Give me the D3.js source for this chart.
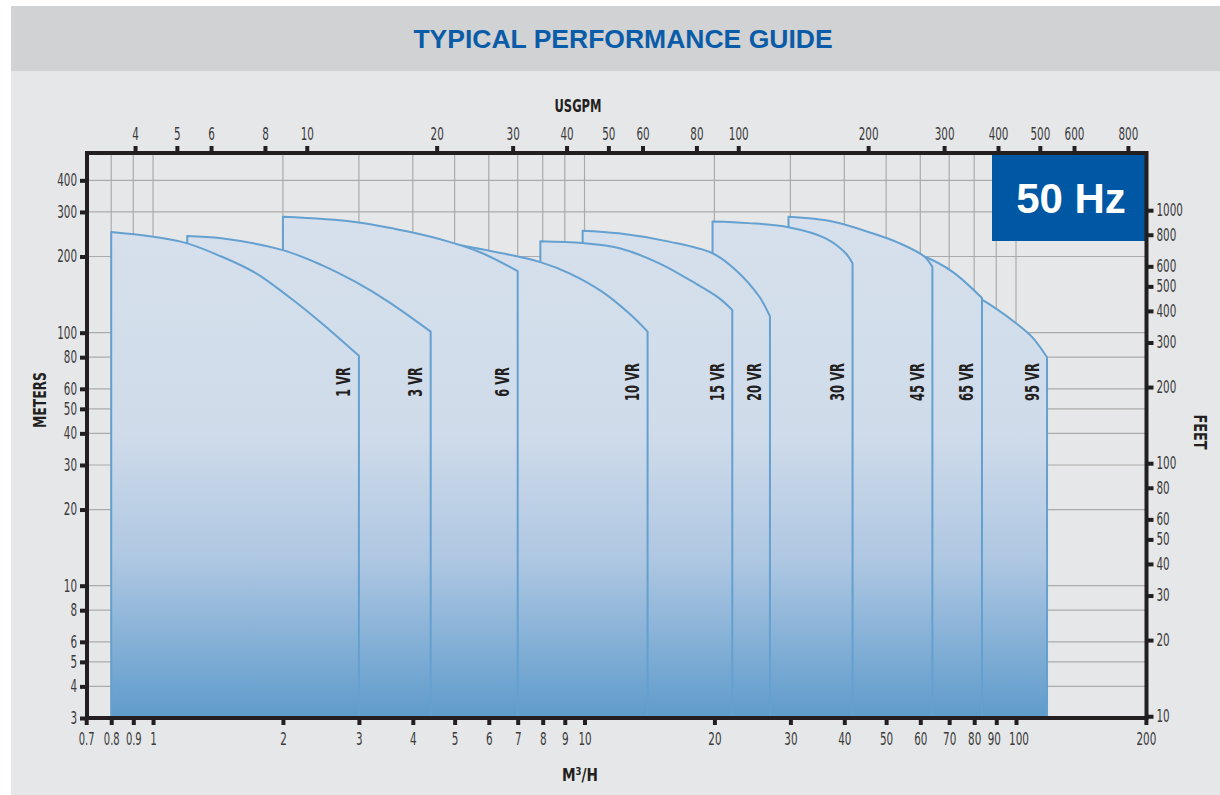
<!DOCTYPE html>
<html><head><meta charset="utf-8">
<script src="https://cdn.jsdelivr.net/npm/d3@7/dist/d3.min.js"></script>
<style>
body{margin:0;background:#fff;}
svg{display:block;}
.cond{font-family:"Liberation Sans Narrow","DejaVu Sans Condensed","Roboto Condensed",sans-serif;font-stretch:condensed;}
</style>
</head><body>
<svg id="chart" width="1220" height="795"></svg>
<script>
// ---------- data ----------
const titleText = "TYPICAL PERFORMANCE GUIDE";
const hzText = "50 Hz";
const flowTicks = [0.7,0.8,0.9,1,2,3,4,5,6,7,8,9,10,20,30,40,50,60,70,80,90,100,200];
const gpmTicks = [4,5,6,8,10,20,30,40,50,60,80,100,200,300,400,500,600,800];
const meterTicks = [3,4,5,6,8,10,20,30,40,50,60,80,100,200,300,400];
const feetTicks = [10,20,30,40,50,60,80,100,200,300,400,500,600,800,1000];
const pumpNames = ["1 VR","3 VR","6 VR","10 VR","15 VR","20 VR","30 VR","45 VR","65 VR","95 VR"];
const pumpFlows = [
  [0.8, 1.16, 1.44, 1.73, 2.06, 2.46, 3.0],
  [1.2, 1.44, 2.0, 2.46, 2.94, 3.5, 4.4],
  [2.0, 2.94, 3.9, 4.84, 5.8, 7.0],
  [4.9, 7.0, 7.9, 9.2, 11.0, 12.7, 14.0],
  [7.9, 9.9, 12.0, 14.9, 17.8, 20.5, 22.0],
  [9.9, 12.0, 15.7, 19.8, 22.4, 25.4, 26.9],
  [19.8, 24.0, 29.7, 36.2, 40.3, 41.8],
  [29.7, 37.5, 46.5, 53.6, 61.3, 64.0],
  [40, 50, 57, 61.3, 71.3, 83.4],
  [50, 65, 75, 83.4, 100, 109, 118]
];
const pumpHeads = [
  [250, 229, 200, 172, 139, 109, 81],
  [241, 236, 212, 185, 159, 133, 101],
  [287, 274, 251, 229, 206, 175],
  [225, 200, 190, 172, 145, 119, 101],
  [230, 226, 216, 188, 159, 137, 123],
  [253, 247, 229, 206, 177, 139, 116],
  [275, 271, 261, 236, 206, 188],
  [287, 275, 247, 226, 200, 182],
  [226, 216, 207, 200, 174, 137],
  [168, 158, 148, 135, 109, 96, 80]
];
const M3H_TO_GPM = 4.40287;
const M_TO_FT = 3.28084;

// ---------- layout ----------
const L = 87, R = 1146.5, T = 153, B = 718;
const flowMin = 0.7, flowMax = 200, headMin = 3, headMax = 513;

const svg = d3.select("#chart");
const x = d3.scaleLog().domain([flowMin, flowMax]).range([86.2, 1145.9]);
const xg = d3.scaleLog().domain([flowMin*M3H_TO_GPM, flowMax*M3H_TO_GPM]).range([86.2, 1145.9]);
const y = d3.scaleLog().domain([headMin, headMax]).range([B, T]);
const yf = d3.scaleLog().domain([headMin*M_TO_FT, headMax*M_TO_FT]).range([B, T]);

// squeeze text to a condensed look
function charW(s, dw, dotW, spW){
  let w = 0;
  for (const c of s) w += (c === "." ? dotW : c === " " ? spW : dw);
  return w;
}

// background
svg.append("rect").attr("x",11).attr("y",6).attr("width",1209).attr("height",789).attr("fill","#e6e7e9");
svg.append("rect").attr("x",11).attr("y",6).attr("width",1209).attr("height",65).attr("fill","#d1d2d4");
svg.append("text").attr("x",623).attr("y",48).attr("text-anchor","middle")
  .attr("font-family","Liberation Sans, Arial, sans-serif").attr("font-weight","bold")
  .attr("font-size",26.5).attr("fill","#0a5ca8").text(titleText);

// gradient
const defs = svg.append("defs");
const grad = defs.append("linearGradient").attr("id","fillGrad")
  .attr("gradientUnits","userSpaceOnUse").attr("x1",0).attr("x2",0).attr("y1",T).attr("y2",B);
[[0,"#d9e2ed"],[0.5,"#cfdbea"],[0.72,"#aec7e2"],[1,"#5f9bcb"]].forEach(s=>
  grad.append("stop").attr("offset",s[0]).attr("stop-color",s[1]));

// grid
const grid = svg.append("g").attr("stroke","#ababab").attr("stroke-width",1.2);
flowTicks.filter(v=>v>flowMin && v<flowMax).forEach(v=>{
  grid.append("line").attr("x1",x(v)).attr("x2",x(v)).attr("y1",T).attr("y2",B);
});
meterTicks.filter(v=>v>headMin).forEach(v=>{
  grid.append("line").attr("x1",L).attr("x2",R).attr("y1",y(v)).attr("y2",y(v));
});

// pump areas (largest first so smaller ones sit on top)
const topLine = d3.line().x(d=>x(d[0])).y(d=>y(d[1])).curve(d3.curveCatmullRom.alpha(0.5));
const areas = svg.append("g");
for (let i = pumpNames.length-1; i >= 0; i--) {
  const pts = pumpFlows[i].map((f,j)=>[f, pumpHeads[i][j]]);
  const top = topLine(pts);
  const x0 = x(pumpFlows[i][0]), xn = x(pumpFlows[i][pumpFlows[i].length-1]);
  const d = "M"+x0+","+B+"L"+top.slice(1)+"L"+xn+","+B+"Z";
  areas.append("path").attr("d",d).attr("fill","url(#fillGrad)")
    .attr("stroke","#64a0d0").attr("stroke-width",2).attr("stroke-linejoin","round");
}
// pump labels
const labels = svg.append("g").attr("class","cond");
pumpNames.forEach((n,i)=>{
  const xe = x(pumpFlows[i][pumpFlows[i].length-1]) - 8.5;
  labels.append("text").attr("transform","translate("+xe+",382) rotate(-90)")
    .attr("text-anchor","middle").attr("font-size",20).attr("font-weight","bold")
    .attr("textLength", charW(n, 8.6, 3, 3.5)).attr("lengthAdjust","spacingAndGlyphs")
    .attr("fill","#231f20").text(n);
});

// 50 Hz box
svg.append("rect").attr("x",992).attr("y",T).attr("width",R-992).attr("height",241-T).attr("fill","#0057a3");
svg.append("text").attr("x",1071).attr("y",213).attr("text-anchor","middle")
  .attr("font-family","Liberation Sans, Arial, sans-serif").attr("font-weight","bold")
  .attr("font-size",42).attr("fill","#ffffff").text(hzText);

// frame
const axisColor = "#231f20";
svg.append("rect").attr("x",L).attr("y",T).attr("width",R-L).attr("height",B-T)
  .attr("fill","none").attr("stroke",axisColor).attr("stroke-width",4);

// axes
function styleAxis(g){
  g.select(".domain").remove();
  g.selectAll(".tick line").attr("stroke",axisColor).attr("stroke-width",4);
  g.selectAll(".tick text").attr("class","cond").attr("font-family",null).attr("font-size",17).attr("fill","#3a3a3a")
    .each(function(){
      const s = d3.select(this).text();
      d3.select(this).attr("textLength", charW(s, 6.6, 2.6, 3)).attr("lengthAdjust","spacingAndGlyphs");
    });
}
const fmt = d=>String(d);
const bottomAxis = svg.append("g").attr("transform","translate(0,"+B+")")
  .call(d3.axisBottom(x).tickValues(flowTicks).tickFormat(fmt).tickSize(7).tickPadding(8))
  .call(styleAxis);
// tight pair at the right end of the bottom axis: nudge apart slightly
bottomAxis.selectAll(".tick text").attr("dx", d => d === 90 ? -2.5 : d === 100 ? 2.5 : 0);
svg.append("g").attr("transform","translate(0,"+T+")")
  .call(d3.axisTop(xg).tickValues(gpmTicks).tickFormat(fmt).tickSize(7).tickPadding(6))
  .call(styleAxis);
svg.append("g").attr("transform","translate("+L+",0)")
  .call(d3.axisLeft(y).tickValues(meterTicks).tickFormat(fmt).tickSize(7).tickPadding(3))
  .call(styleAxis);
svg.append("g").attr("transform","translate("+R+",0)")
  .call(d3.axisRight(yf).tickValues(feetTicks).tickFormat(fmt).tickSize(7).tickPadding(3))
  .call(styleAxis);

// axis titles
const tAttrs = (s,w)=>s.attr("class","cond").attr("font-weight","bold").attr("font-size",18)
  .attr("fill","#231f20").attr("text-anchor","middle").attr("textLength",w).attr("lengthAdjust","spacingAndGlyphs");
svg.append("text").attr("x",578).attr("y",112).call(tAttrs,47).text("USGPM");
svg.append("text").attr("x",580).attr("y",781).call(tAttrs,36).text("M³/H");
svg.append("text").attr("transform","translate(46,400) rotate(-90)").call(tAttrs,56).text("METERS");
svg.append("text").attr("transform","translate(1194,432) rotate(90)").call(tAttrs,35).text("FEET");
</script>
</body></html>
